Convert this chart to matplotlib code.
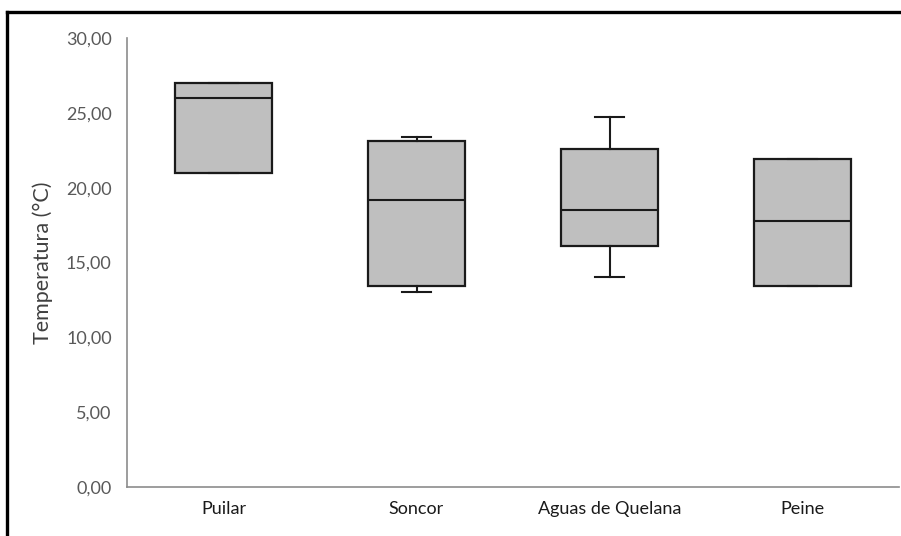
import matplotlib.pyplot as plt
from matplotlib.lines import Line2D
from matplotlib.ticker import FuncFormatter

# temperature summary per site (deg C)
sites = ['Puilar', 'Soncor', 'Aguas de Quelana', 'Peine']
t_min = [21.0, 13.0, 14.0, 13.4]
t_q1 = [21.0, 13.4, 16.1, 13.4]
t_med = [26.0, 19.2, 18.5, 17.8]
t_q3 = [27.0, 23.1, 22.6, 21.9]
t_max = [27.0, 23.4, 24.7, 21.9]

stats = []
for name, lo, q1, med, q3, hi in zip(sites, t_min, t_q1, t_med, t_q3, t_max):
    stats.append({'label': name, 'whislo': lo, 'q1': q1, 'med': med,
                  'q3': q3, 'whishi': hi, 'fliers': []})

plt.rcParams['font.family'] = ['Lato', 'DejaVu Sans']

fig = plt.figure(figsize=(9.01, 5.36), dpi=100)
ax = fig.add_axes([127 / 901, 49 / 536, 772 / 901, 449 / 536])

line_kw = dict(color='#1a1a1a', linewidth=1.5)
ax.bxp(stats, positions=range(1, len(sites) + 1), widths=0.5,
       patch_artist=True, showfliers=False, capwidths=0.15,
       boxprops=dict(facecolor='#bfbfbf', edgecolor='#1a1a1a', linewidth=1.6),
       medianprops=line_kw, whiskerprops=line_kw, capprops=line_kw)

ax.set_xlim(0.5, 4.5)
ax.set_ylim(0, 30)
ax.set_yticks([0, 5, 10, 15, 20, 25, 30])
ax.yaxis.set_major_formatter(FuncFormatter(lambda v, p: f'{v:.2f}'.replace('.', ',')))
ax.set_xticks(range(1, len(sites) + 1))
ax.set_xticklabels(sites)

for side in ['top', 'right']:
    ax.spines[side].set_visible(False)
for side in ['left', 'bottom']:
    ax.spines[side].set_color('#8c8c8c')
    ax.spines[side].set_linewidth(1.2)

ax.tick_params(axis='y', length=0, pad=11, labelsize=13, labelcolor='#595959')
ax.tick_params(axis='x', length=0, pad=10, labelsize=13, labelcolor='#1a1a1a')
ax.set_ylabel('Temperatura (°C)', fontsize=15.5, color='#404040', labelpad=9)

# black frame on the left and top edges
fig.add_artist(Line2D([6.5 / 901, 6.5 / 901], [0, 1 - 11.5 / 536],
                      transform=fig.transFigure, color='black', linewidth=2.4))
fig.add_artist(Line2D([6.5 / 901, 1], [1 - 11.5 / 536, 1 - 11.5 / 536],
                      transform=fig.transFigure, color='black', linewidth=2.4))

fig.savefig('out.png', dpi=100)
